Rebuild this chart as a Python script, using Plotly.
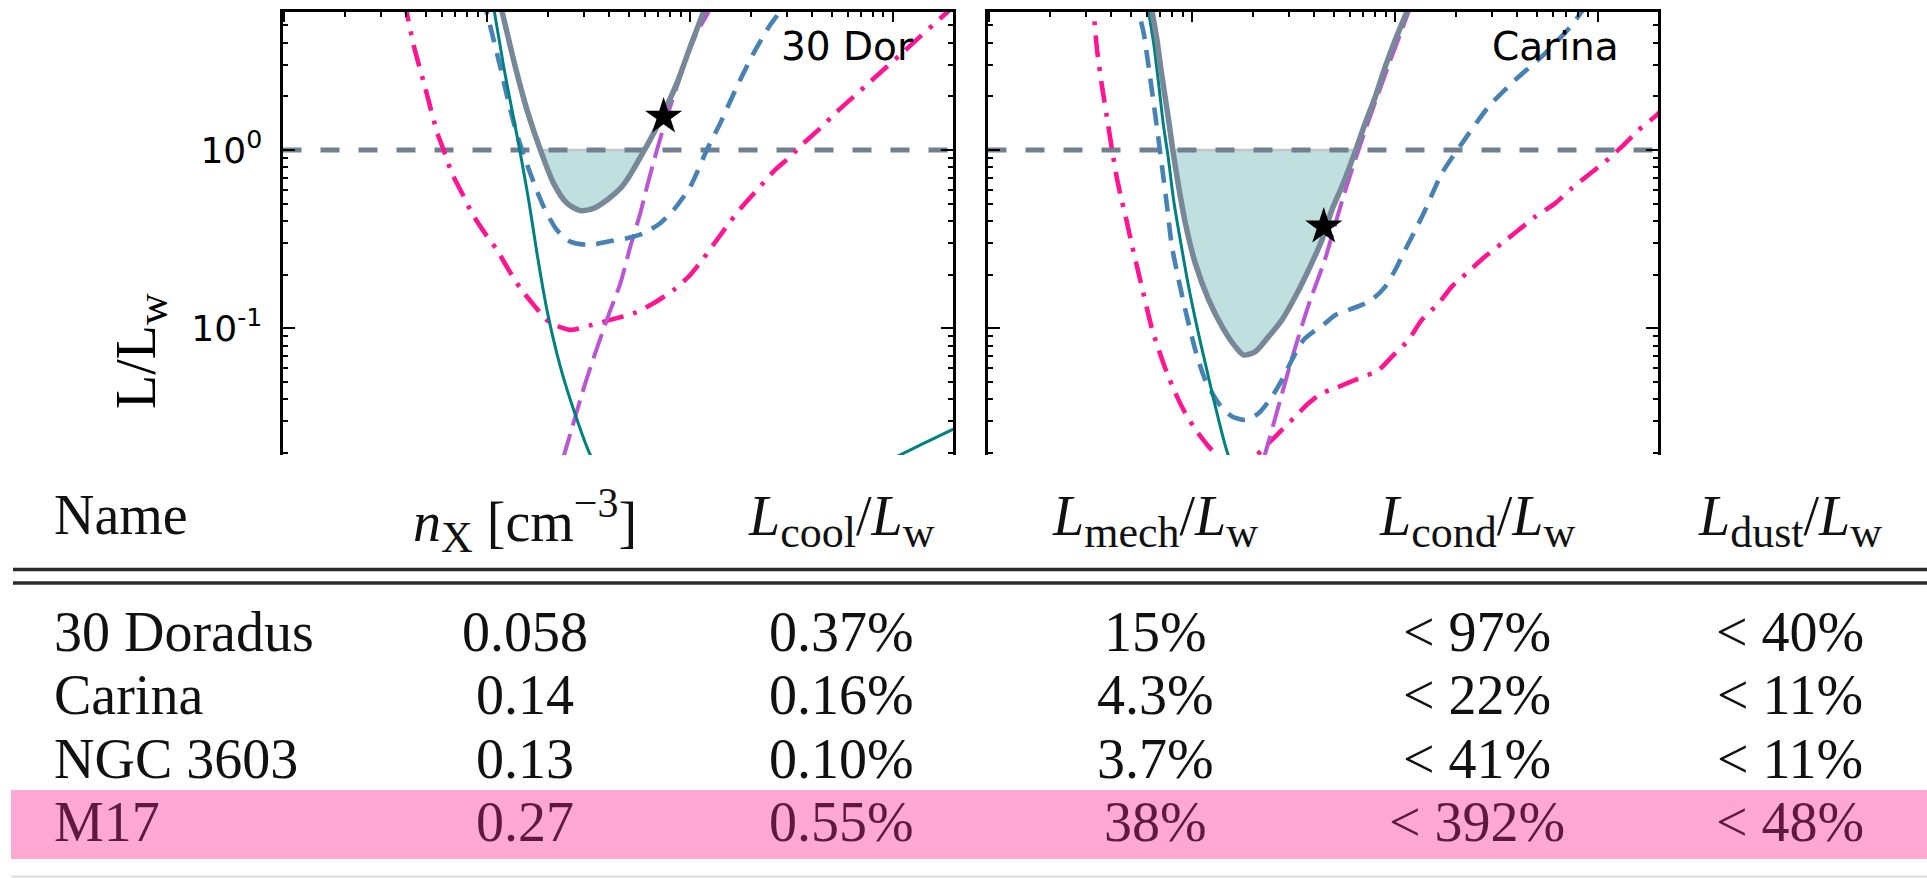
import numpy as np
import plotly.graph_objects as go

W, H = 1927, 878

# ------------------------------------------------------------------
# Curves: log10(n) and log10(L/L_w) for each energy-loss channel
# ------------------------------------------------------------------
# 30 Dor panel
dor_total_logn = [-1.972, -1.925, -1.860, -1.802, -1.736, -1.671, -1.605, -1.539, -1.474, -1.408,
                  -1.342, -1.310, -1.228, -1.162, -1.064, -0.998, -0.932, -0.857]
dor_total_logL = [1.0, 0.776, 0.467, 0.224, 0.0, -0.187, -0.299, -0.340, -0.327, -0.280,
                  -0.215, -0.168, -0.009, 0.131, 0.374, 0.579, 0.776, 1.0]

dor_teal_logn = [-1.985, -1.963, -1.917, -1.876, -1.838, -1.794, -1.753, -1.704, -1.638, -1.572,
                 -1.490, -1.40, -1.25, -1.0, -0.7, -0.4, -0.15, 0.020, 0.291, 0.33]
dor_teal_logL = [0.90, 0.776, 0.467, 0.224, 0.0, -0.280, -0.579, -0.897, -1.215, -1.458,
                 -1.710, -1.86, -2.05, -2.2, -2.15, -1.98, -1.82, -1.720, -1.570, -1.55]

dor_blue_logn = [-2.02, -1.991, -1.934, -1.884, -1.843, -1.786, -1.720, -1.655, -1.589, -1.490,
                 -1.408, -1.310, -1.228, -1.146, -1.080, -0.998, -0.916, -0.850, -0.768, -0.686,
                 -0.604, -0.555, -0.50]
dor_blue_logL = [0.86, 0.729, 0.467, 0.224, 0.056, -0.131, -0.318, -0.449, -0.514, -0.533,
                 -0.514, -0.495, -0.467, -0.411, -0.336, -0.206, 0.0, 0.150, 0.355, 0.542,
                 0.701, 0.776, 0.86]

dor_violet_logn = [-1.68, -1.622, -1.564, -1.515, -1.466, -1.392, -1.342, -1.293, -1.244, -1.211,
                   -1.162, -1.113, -1.064, -1.014, -0.965, -0.908, -0.85]
dor_violet_logL = [-1.92, -1.720, -1.495, -1.308, -1.140, -0.90, -0.748, -0.542, -0.355, -0.206,
                   0.0, 0.187, 0.355, 0.523, 0.66, 0.776, 0.98]

dor_pink_logn = [-2.41, -2.394, -2.361, -2.303, -2.246, -2.213, -2.172, -2.122, -2.073, -2.015,
                 -1.950, -1.892, -1.835, -1.769, -1.695, -1.589, -1.481, -1.392, -1.277, -1.179,
                 -1.080, -0.998, -0.932, -0.867, -0.801, -0.735, -0.661, -0.588, -0.505, -0.440,
                 -0.358, -0.275, -0.193, -0.111, -0.029, 0.053, 0.135, 0.234, 0.316]
dor_pink_logL = [0.841, 0.766, 0.589, 0.346, 0.103, 0.0, -0.131, -0.243, -0.355, -0.458,
                 -0.561, -0.673, -0.776, -0.869, -0.963, -1.009, -0.981, -0.953, -0.916, -0.860,
                 -0.785, -0.701, -0.607, -0.505, -0.402, -0.308, -0.215, -0.121, -0.037, 0.037,
                 0.121, 0.215, 0.299, 0.383, 0.467, 0.551, 0.636, 0.738, 0.822]

dor_star = (-1.129, 0.187)

# Carina panel
car_total_logn = [-2.215, -2.196, -2.172, -2.147, -2.117, -2.094, -2.065, -2.032, -1.983, -1.917,
                  -1.851, -1.786, -1.745, -1.687, -1.622, -1.556, -1.490, -1.425, -1.359, -1.310,
                  -1.261, -1.195, -1.146, -1.096, -1.047, -0.998, -0.940, -0.905]
car_total_logL = [0.88, 0.776, 0.617, 0.411, 0.187, 0.0, -0.206, -0.411, -0.636, -0.841,
                  -0.991, -1.103, -1.150, -1.131, -1.047, -0.953, -0.822, -0.673, -0.505, -0.336,
                  -0.206, -0.009, 0.150, 0.299, 0.467, 0.617, 0.776, 0.87]

car_teal_logn = [-2.23, -2.213, -2.188, -2.164, -2.139, -2.117, -2.090, -2.057, -2.016, -1.975,
                 -1.934, -1.884, -1.818, -1.75, -1.65]
car_teal_logL = [0.90, 0.776, 0.598, 0.374, 0.131, -0.037, -0.280, -0.505, -0.766, -0.991,
                 -1.196, -1.439, -1.720, -1.86, -2.05]

car_blue_logn = [-2.28, -2.262, -2.237, -2.213, -2.188, -2.164, -2.147, -2.122, -2.098, -2.065,
                 -2.032, -1.983, -1.934, -1.868, -1.802, -1.736, -1.671, -1.605, -1.556, -1.507,
                 -1.449, -1.343, -1.293, -1.228, -1.162, -1.105, -1.047, -0.998, -0.949, -0.899,
                 -0.850, -0.768, -0.669, -0.538, -0.407, -0.259, -0.128, -0.079, -0.03]
car_blue_logL = [0.88, 0.776, 0.654, 0.467, 0.262, 0.056, -0.093, -0.318, -0.542, -0.729,
                 -0.897, -1.121, -1.290, -1.421, -1.495, -1.514, -1.477, -1.383, -1.290, -1.178,
                 -1.065, -0.972, -0.925, -0.897, -0.869, -0.832, -0.766, -0.673, -0.561, -0.449,
                 -0.336, -0.131, 0.037, 0.243, 0.393, 0.542, 0.701, 0.776, 0.85]

car_violet_logn = [-1.70, -1.638, -1.581, -1.507, -1.425, -1.343, -1.302, -1.261, -1.211, -1.162,
                   -1.121, -1.072, -1.023, -0.973, -0.932, -0.88]
car_violet_logL = [-1.93, -1.70, -1.47, -1.17, -0.87, -0.61, -0.45, -0.29, -0.11, 0.056,
                   0.19, 0.345, 0.50, 0.65, 0.776, 0.94]

car_pink_logn = [-2.50, -2.484, -2.467, -2.443, -2.418, -2.393, -2.369, -2.344, -2.319, -2.295,
                 -2.270, -2.246, -2.221, -2.196, -2.163, -2.122, -2.081, -2.032, -1.975, -1.917,
                 -1.868, -1.80, -1.75, -1.687, -1.622, -1.556, -1.490, -1.425, -1.359, -1.293,
                 -1.195, -1.080, -1.014, -0.932, -0.867, -0.784, -0.719, -0.637, -0.555, -0.472,
                 -0.390, -0.308, -0.210, -0.128, -0.046, 0.037, 0.119, 0.201, 0.291, 0.32]
car_pink_logL = [0.90, 0.766, 0.56, 0.36, 0.18, 0.0, -0.16, -0.29, -0.41, -0.535,
                 -0.655, -0.77, -0.89, -1.005, -1.121, -1.252, -1.364, -1.477, -1.579, -1.664,
                 -1.720, -1.77, -1.78, -1.720, -1.645, -1.570, -1.495, -1.421, -1.364, -1.336,
                 -1.290, -1.234, -1.159, -1.065, -0.953, -0.860, -0.766, -0.682, -0.598, -0.523,
                 -0.449, -0.374, -0.299, -0.215, -0.140, -0.065, 0.019, 0.112, 0.196, 0.23]

car_star = (-1.35, -0.43)

panel_labels = ["30 Dor", "Carina"]

# ------------------------------------------------------------------
# Table values
# ------------------------------------------------------------------
SUB = '<sub><span style="font-size:44px">{}</span></sub>'
SUP = '<sup><span style="font-size:42px">{}</span></sup>'
col_headers = ["Name",
               "<i>n</i>" + SUB.format("X") + " [cm" + SUP.format("\u22123") + "]",
               "<i>L</i>" + SUB.format("cool") + "/<i>L</i>" + SUB.format("w"),
               "<i>L</i>" + SUB.format("mech") + "/<i>L</i>" + SUB.format("w"),
               "<i>L</i>" + SUB.format("cond") + "/<i>L</i>" + SUB.format("w"),
               "<i>L</i>" + SUB.format("dust") + "/<i>L</i>" + SUB.format("w")]
region_names = ["30 Doradus", "Carina", "NGC 3603", "M17"]
n_x = ["0.058", "0.14", "0.13", "0.27"]
l_cool = ["0.37%", "0.16%", "0.10%", "0.55%"]
l_mech = ["15%", "4.3%", "3.7%", "38%"]
l_cond = ["&lt; 97%", "&lt; 22%", "&lt; 41%", "&lt; 392%"]
l_dust = ["&lt; 40%", "&lt; 11%", "&lt; 11%", "&lt; 48%"]
highlight_row = "M17"

# ------------------------------------------------------------------
# Layout geometry (pixels)
# ------------------------------------------------------------------
XRANGE = [-3.007, 0.297]
YRANGE = [-1.711, 0.776]
panel_px = [(282.5, 953.0), (987.5, 1658.0)]
plot_top, plot_bottom = 11.7, 455.0


def px_x(p):
    return p / W


def px_y(p):
    return 1 - p / H


C_TOTAL = "#778899"
C_TEAL = "#008080"
C_BLUE = "#4682b4"
C_VIOLET = "#ba55d3"
C_PINK = "#ff1493"
C_FILL = "rgb(191,224,223)"
C_UNITY = "#708090"

fig = go.Figure()

panels = [
    dict(total=(dor_total_logn, dor_total_logL), teal=(dor_teal_logn, dor_teal_logL),
         blue=(dor_blue_logn, dor_blue_logL), violet=(dor_violet_logn, dor_violet_logL),
         pink=(dor_pink_logn, dor_pink_logL), star=dor_star),
    dict(total=(car_total_logn, car_total_logL), teal=(car_teal_logn, car_teal_logL),
         blue=(car_blue_logn, car_blue_logL), violet=(car_violet_logn, car_violet_logL),
         pink=(car_pink_logn, car_pink_logL), star=car_star),
]


def below_unity(logn, logL):
    """Region enclosed by the total curve and L/L_w = 1."""
    ln = np.asarray(logn, float)
    lL = np.asarray(logL, float)
    idx = np.where(lL < 0)[0]
    i0, i1 = idx[0], idx[-1]
    xl = ln[i0 - 1] + (0 - lL[i0 - 1]) * (ln[i0] - ln[i0 - 1]) / (lL[i0] - lL[i0 - 1])
    xr = ln[i1] + (0 - lL[i1]) * (ln[i1 + 1] - ln[i1]) / (lL[i1 + 1] - lL[i1])
    xs = np.concatenate([[xl], ln[i0:i1 + 1], [xr, xl]])
    ys = np.concatenate([[0.0], lL[i0:i1 + 1], [0.0, 0.0]])
    return 10 ** xs, 10 ** ys


def curve(k, pair, color, width, dash):
    ln, lL = pair
    fig.add_trace(go.Scatter(
        x=10 ** np.asarray(ln), y=10 ** np.asarray(lL), mode="lines",
        line=dict(color=color, width=width, dash=dash, shape="spline", smoothing=0.7),
        xaxis=f"x{k}", yaxis=f"y{k}", showlegend=False, hoverinfo="skip"))


for i, p in enumerate(panels):
    k = "" if i == 0 else str(i + 1)
    fx, fy = below_unity(*p["total"])
    fig.add_trace(go.Scatter(x=fx, y=fy, mode="lines", fill="toself", fillcolor=C_FILL,
                             line=dict(color="#c4c4c4", width=2.5),
                             xaxis=f"x{k}", yaxis=f"y{k}", showlegend=False, hoverinfo="skip"))
    # L = L_w reference line
    fig.add_trace(go.Scatter(x=[10 ** XRANGE[0], 10 ** XRANGE[1]], y=[1, 1], mode="lines",
                             line=dict(color=C_UNITY, width=5, dash="19px,19px"),
                             xaxis=f"x{k}", yaxis=f"y{k}", showlegend=False, hoverinfo="skip"))
    curve(k, p["pink"], C_PINK, 4.6, "22px,10px,4px,10px")
    curve(k, p["violet"], C_VIOLET, 4, "26px,9px")
    curve(k, p["blue"], C_BLUE, 4.6, "18px,11px")
    curve(k, p["teal"], C_TEAL, 3, "solid")
    curve(k, p["total"], C_TOTAL, 5.5, "solid")
    fig.add_trace(go.Scatter(x=[10 ** p["star"][0]], y=[10 ** p["star"][1]], mode="markers",
                             marker=dict(symbol="star", size=28, color="black"),
                             xaxis=f"x{k}", yaxis=f"y{k}", showlegend=False, hoverinfo="skip"))

# axis ticks
x_major = [10.0 ** d for d in range(-3, 1)]
x_minor = [m * 10.0 ** d for d in range(-3, 1) for m in range(2, 10)]
y_major = [0.1, 1.0]
y_minor = [m * 10.0 ** d for d in (-2, -1, 0) for m in range(2, 10)]

layout = dict(width=W, height=H, margin=dict(l=0, r=0, t=0, b=0),
              paper_bgcolor="white", plot_bgcolor="white", showlegend=False)
ydom = [px_y(plot_bottom), px_y(plot_top)]
for i, (a, b) in enumerate(panel_px):
    k = "" if i == 0 else str(i + 1)
    layout[f"xaxis{k}"] = dict(
        type="log", range=XRANGE, domain=[px_x(a), px_x(b)], anchor=f"y{k}", side="top",
        showline=True, linecolor="black", linewidth=3, mirror=False,
        ticks="inside", ticklen=10, tickwidth=2, tickcolor="black",
        tickmode="array", tickvals=x_major, showticklabels=False,
        minor=dict(ticks="inside", ticklen=5, tickwidth=1.5, tickcolor="black",
                   tickmode="array", tickvals=x_minor),
        showgrid=False, zeroline=False)
    layout[f"yaxis{k}"] = dict(
        type="log", range=YRANGE, domain=ydom, anchor=f"x{k}",
        showline=True, linecolor="black", linewidth=3, mirror="ticks",
        ticks="inside", ticklen=12, tickwidth=2, tickcolor="black",
        tickmode="array", tickvals=y_major,
        ticktext=["10<sup>-1</sup>", "10<sup>0</sup>"],
        showticklabels=(i == 0), ticklabelstandoff=10,
        tickfont=dict(family="DejaVu Sans", size=36, color="black"),
        minor=dict(ticks="inside", ticklen=5, tickwidth=1.5, tickcolor="black",
                   tickmode="array", tickvals=y_minor),
        showgrid=False, zeroline=False)
fig.update_layout(**layout)

annotations = []
for i, lab in enumerate(panel_labels):
    k = "" if i == 0 else str(i + 1)
    annotations.append(dict(text=lab, xref=f"x{k} domain", yref=f"y{k} domain",
                            x=0.945, y=0.922, xanchor="right", yanchor="middle",
                            showarrow=False,
                            font=dict(family="DejaVu Sans", size=39, color="black")))

annotations.append(dict(text='L/L<sub><span style="font-size:44px">w</span></sub>',
                        xref="paper", yref="paper",
                        x=px_x(141), y=px_y(351), xanchor="center", yanchor="middle",
                        textangle=-90, showarrow=False,
                        font=dict(family="Liberation Serif", size=56, color="black")))

# ---- table ----
TFONT = "Liberation Serif"
TSIZE = 56
col_centers = [None, 525, 841, 1155, 1477, 1790]
name_left = 52
header_mid = 515
row_mids = [632, 695, 759, 822]

for j, htxt in enumerate(col_headers):
    if j == 0:
        annotations.append(dict(text=htxt, xref="paper", yref="paper",
                                x=px_x(name_left), y=px_y(header_mid), xanchor="left",
                                yanchor="middle", showarrow=False,
                                font=dict(family=TFONT, size=TSIZE, color="#111111")))
    else:
        annotations.append(dict(text=htxt, xref="paper", yref="paper",
                                x=px_x(col_centers[j]), y=px_y(header_mid + 6), xanchor="center",
                                yanchor="middle", showarrow=False,
                                font=dict(family=TFONT, size=TSIZE, color="#111111")))

columns = [region_names, n_x, l_cool, l_mech, l_cond, l_dust]
for r, name in enumerate(region_names):
    color = "#5e1a3e" if name == highlight_row else "#111111"
    for j, col in enumerate(columns):
        if j == 0:
            annotations.append(dict(text=col[r], xref="paper", yref="paper",
                                    x=px_x(name_left), y=px_y(row_mids[r]), xanchor="left",
                                    yanchor="middle", showarrow=False,
                                    font=dict(family=TFONT, size=TSIZE, color=color)))
        else:
            annotations.append(dict(text=col[r], xref="paper", yref="paper",
                                    x=px_x(col_centers[j]), y=px_y(row_mids[r]), xanchor="center",
                                    yanchor="middle", showarrow=False,
                                    font=dict(family=TFONT, size=TSIZE, color=color)))

shapes = [
    dict(type="rect", xref="paper", yref="paper", x0=px_x(11), x1=1.0,
         y0=px_y(859), y1=px_y(790), fillcolor="#ffa8d4", line=dict(width=0), layer="below"),
    dict(type="line", xref="paper", yref="paper", x0=px_x(13), x1=1.0,
         y0=px_y(569.5), y1=px_y(569.5), line=dict(color="#2b2b2b", width=3.5)),
    dict(type="line", xref="paper", yref="paper", x0=px_x(13), x1=1.0,
         y0=px_y(583), y1=px_y(583), line=dict(color="#2b2b2b", width=3.5)),
    dict(type="line", xref="paper", yref="paper", x0=px_x(11), x1=1.0,
         y0=px_y(876.5), y1=px_y(876.5), line=dict(color="#dddddd", width=2)),
]
fig.update_layout(annotations=annotations, shapes=shapes)

fig.write_html("out.html")
